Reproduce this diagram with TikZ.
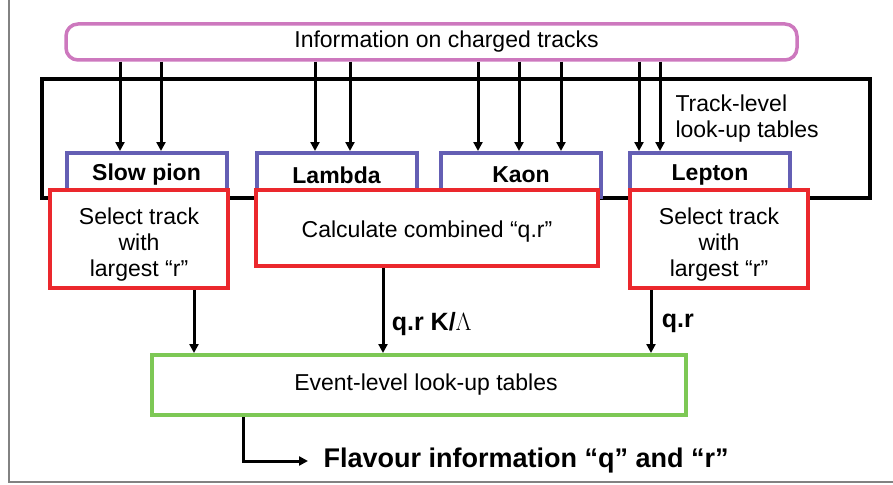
\documentclass[tikz,border=0pt]{standalone}
\usepackage{fontspec}
\setmainfont{Liberation Sans}
\usetikzlibrary{arrows.meta}
\definecolor{infopink}{RGB}{205,120,190}
\definecolor{tabpurple}{RGB}{100,95,180}
\definecolor{selred}{RGB}{235,40,45}
\definecolor{evgreen}{RGB}{125,200,85}
\definecolor{framegray}{RGB}{130,130,130}
\tikzset{
  txt/.style={font=\fontsize{23}{26}\selectfont},
  lbl/.style={font=\fontsize{25}{28}\selectfont\bfseries, anchor=west},
  arr/.style={line width=3pt, -{Triangle[length=9pt,width=9pt]}},
  infobox/.style={draw=infopink, line width=3.5pt, rounded corners=12pt, txt},
  partbox/.style={draw=tabpurple, line width=4pt, minimum width=160pt, minimum height=44pt,
    font=\fontsize{23}{26}\selectfont\bfseries},
  selbox/.style={draw=selred, line width=3.5pt, fill=white},
  seltext/.style={txt, align=center},
}
\begin{document}
\begin{tikzpicture}[x=1pt,y=-1pt]
    \useasboundingbox (0,0) rectangle (893,484);
    % Page frame
    \draw[framegray, line width=2pt] (9,0) -- (9,482) -- (893,482);

    % Input information and track-level tables
    \node[infobox, minimum width=731pt, minimum height=36pt] (info) at (431.5,42) {\hspace*{30pt}Information on charged tracks};
    \node[draw, line width=3.5pt, minimum width=828pt, minimum height=119pt] (track) at (456,138.5) {};
    \node[txt, align=left, anchor=north west] (tracklbl) at (672,91) {Track-level\\look-up tables};

    % Particle categories
    \node[partbox] (slow) at (146.5,175) {Slow pion};
    \node[partbox] (lambda) at (336.5,175) {Lambda};
    \node[partbox] (kaon) at (521,175) {Kaon};
    \node[partbox] (lepton) at (710,175) {Lepton};

    % Selection and combination
    \node[selbox, minimum width=178pt, minimum height=98pt,
      label={[seltext, yshift=-6pt]center:Select track\\with\\largest “r”}] (selslow) at (139,239) {};
    \node[selbox, minimum width=342pt, minimum height=76pt,
      label={[seltext, yshift=-4pt]center:Calculate combined “q.r”}] (combine) at (427,228) {};
    \node[selbox, minimum width=178pt, minimum height=98pt,
      label={[seltext, yshift=-6pt]center:Select track\\with\\largest “r”}] (sellep) at (719,239) {};

    % Event-level tables and output
    \node[draw=evgreen, line width=4pt, minimum width=534pt, minimum height=60pt, txt] (event) at (419,385) {\hspace*{14pt}Event-level look-up tables};
    \node[font=\fontsize{27}{30}\selectfont\bfseries, anchor=west] (flav) at (320,461) {Flavour information “q” and “r”};

    % Tracks into each category
    \foreach \dx in {-26.5,14.5} {
      \path ([xshift=\dx pt]slow.north) coordinate (tip);
      \draw[arr] (info.south -| tip) -- (tip);
    }
    \foreach \dx in {-21.5,13.5} {
      \path ([xshift=\dx pt]lambda.north) coordinate (tip);
      \draw[arr] (info.south -| tip) -- (tip);
    }
    \foreach \dx in {-43,-2,40} {
      \path ([xshift=\dx pt]kaon.north) coordinate (tip);
      \draw[arr] (info.south -| tip) -- (tip);
    }
    \foreach \dx in {-71,-50} {
      \path ([xshift=\dx pt]lepton.north) coordinate (tip);
      \draw[arr] (info.south -| tip) -- (tip);
    }

    % Results into event-level tables
    \path ([xshift=55pt]selslow.south) coordinate (s1)
          ([xshift=-44pt]combine.south) coordinate (s2)
          ([xshift=-68pt]sellep.south) coordinate (s3)
          ([xshift=-176pt]event.south) coordinate (s4);
    \draw[arr] (s1) -- (s1 |- event.north);
    \draw[arr] (s2) -- (s2 |- event.north) node[pos=0.66, right=4pt, lbl] {q.r K/$\Lambda$};
    \draw[arr] (s3) -- (s3 |- event.north) node[pos=0.53, right=6pt, lbl] {q.r};
    \draw[arr] (s4) |- ([xshift=-12pt]flav.west);
\end{tikzpicture}
\end{document}
